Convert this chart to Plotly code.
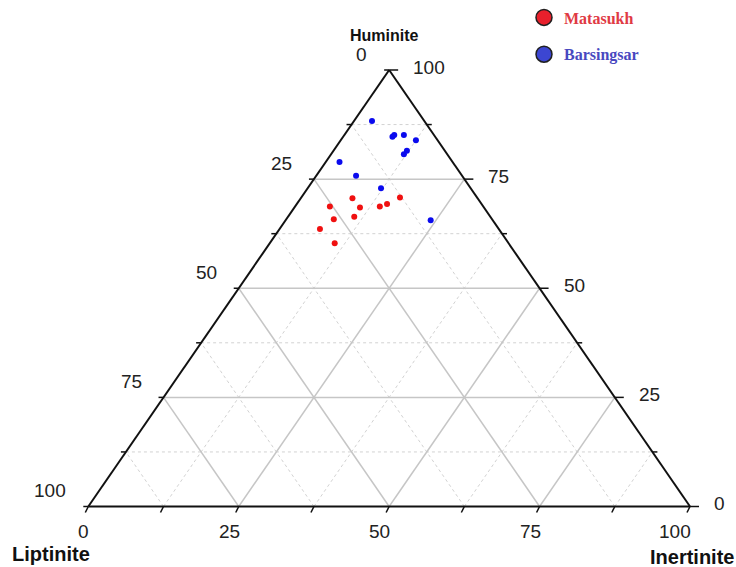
import plotly.graph_objects as go

# Maceral composition (vol. %) of the two lignite fields
matasukh_liptinite = [20.8, 25.5, 20.6, 17.2, 15.7, 12.8, 26.3, 22.6, 29.7, 28.9]
matasukh_huminite = [70.6, 68.7, 68.5, 68.7, 69.3, 70.8, 65.8, 66.4, 63.6, 60.3]
matasukh_inertinite = [8.6, 5.8, 10.9, 14.1, 15.0, 16.4, 7.9, 11.0, 6.7, 10.8]

barsingsar_liptinite = [8.7, 7.1, 6.6, 5.0, 3.6, 6.3, 7.2, 18.8, 17.6, 14.9, 10.3]
barsingsar_huminite = [88.3, 84.7, 85.1, 85.1, 83.9, 81.5, 80.7, 78.9, 75.8, 72.9, 65.6]
barsingsar_inertinite = [3.0, 8.2, 8.3, 9.9, 12.5, 12.2, 12.1, 2.3, 6.6, 12.2, 24.1]

tick_values = [0, 25, 50, 75, 100]
minor_values = [12.5, 37.5, 62.5, 87.5]

W, H = 736, 567
# plot-area geometry of the triangle (pixels)
X0, X1 = 88.3, 690.0        # bottom-left / bottom-right corners
Y_BASE, Y_TOP = 506.5, 70.0  # base line / apex
XS = (X1 - X0) / 100.0       # px per unit along x
YS = (Y_BASE - Y_TOP) / 100.0


def project(lip, hum, ine):
    """Ternary (L, H, I) -> cartesian, Huminite at apex, Inertinite bottom-right."""
    xs, ys = [], []
    for l, h, i in zip(lip, hum, ine):
        s = l + h + i
        h, i = 100 * h / s, 100 * i / s
        xs.append(i + h / 2)
        ys.append(h)
    return xs, ys


def seg_trace(segs, color, width, dash="solid"):
    xs, ys = [], []
    for (xa, ya), (xb, yb) in segs:
        xs += [xa, xb, None]
        ys += [ya, yb, None]
    return go.Scatter(x=xs, y=ys, mode="lines", hoverinfo="skip", showlegend=False,
                      line=dict(color=color, width=width, dash=dash))


def grid_segments(values):
    segs = []
    for v in values:
        segs.append(((v / 2, v), (100 - v / 2, v)))               # constant Huminite
        segs.append(((v, 0), (v + (100 - v) / 2, 100 - v)))       # constant Inertinite
        segs.append(((100 - v, 0), ((100 - v) / 2, 100 - v)))     # constant Liptinite
    return segs


fig = go.Figure()

fig.add_trace(seg_trace(grid_segments(minor_values), "#d2d2d2", 1, "dot"))
fig.add_trace(seg_trace(grid_segments(tick_values[1:-1]), "#c6c6c6", 1.5))

# triangle frame
fig.add_trace(seg_trace([((0, 0), (100, 0)), ((100, 0), (50, 100)), ((50, 100), (0, 0))],
                        "#111111", 2))

# tick marks on each edge
all_ticks = sorted(tick_values + minor_values)
tick_segs = []
for v in all_ticks:
    major = v in tick_values
    # left edge: Liptinite
    px, py = (100 - v) / 2, 100 - v
    tick_segs.append(((px, py), (px - 5 / XS, py)))
    # right edge: Huminite
    px, py = 100 - v / 2, v
    tick_segs.append(((px, py), (px + (9 if major else 5) / XS, py)))
    # bottom edge: Inertinite
    px, py = v, 0
    tick_segs.append(((px, py), (px - 3 / XS, py - 6 / YS)))
fig.add_trace(seg_trace(tick_segs, "#111111", 1.5))

# data points
mx, my = project(matasukh_liptinite, matasukh_huminite, matasukh_inertinite)
bx, by = project(barsingsar_liptinite, barsingsar_huminite, barsingsar_inertinite)
fig.add_trace(go.Scatter(x=mx, y=my, mode="markers", showlegend=False, name="Matasukh",
                         marker=dict(color="#f01010", size=6)))
fig.add_trace(go.Scatter(x=bx, y=by, mode="markers", showlegend=False, name="Barsingsar",
                         marker=dict(color="#0a0aee", size=6)))

# legend entries
legend_items = [("Matasukh", "#e8202c", "#e03a44"), ("Barsingsar", "#3c46d2", "#4848c0")]
for name, fill, txt in legend_items:
    fig.add_trace(go.Scatter(
        x=[None], y=[None], mode="markers", legendgroup=name,
        name=f"<b><span style='color:{txt}'>{name}</span></b>",
        marker=dict(color=fill, size=18, line=dict(color="#202020", width=1.5))))

tick_font = dict(family="Liberation Sans, Arial", size=19, color="#222222")
for v in tick_values:
    lab = str(v)
    # Liptinite along the left edge
    fig.add_annotation(x=(100 - v) / 2, y=100 - v, text=lab, showarrow=False,
                       xanchor="right", yanchor="middle", xshift=-20, yshift=16, font=tick_font)
    # Huminite along the right edge
    fig.add_annotation(x=100 - v / 2, y=v, text=lab, showarrow=False,
                       xanchor="left", yanchor="middle", xshift=22, yshift=3, font=tick_font)
    # Inertinite along the bottom
    fig.add_annotation(x=v, y=0, text=lab, showarrow=False,
                       xanchor="right", yanchor="middle", xshift=3, yshift=-25, font=tick_font)

fig.add_annotation(x=50, y=100, text="<b>Huminite</b>", showarrow=False,
                   xanchor="center", yanchor="middle", xshift=-5, yshift=35,
                   font=dict(family="Liberation Sans, Arial", size=16, color="#111111"))
corner_font = dict(family="Liberation Sans, Arial", size=20, color="#111111")
fig.add_annotation(x=0, y=0, text="<b>Liptinite</b>", showarrow=False,
                   xanchor="center", yanchor="middle", xshift=-37, yshift=-47, font=corner_font)
fig.add_annotation(x=100, y=0, text="<b>Inertinite</b>", showarrow=False,
                   xanchor="center", yanchor="middle", xshift=2, yshift=-50, font=corner_font)

fig.update_layout(
    width=W, height=H,
    margin=dict(l=0, r=0, t=0, b=0),
    paper_bgcolor="white", plot_bgcolor="white",
    xaxis=dict(range=[-X0 / XS, (W - X0) / XS], visible=False, fixedrange=True),
    yaxis=dict(range=[-(H - Y_BASE) / YS, Y_BASE / YS], visible=False, fixedrange=True),
    showlegend=True,
    legend=dict(x=524 / W, y=1 - 0.5 / H, xanchor="left", yanchor="top",
                bgcolor="rgba(0,0,0,0)", tracegroupgap=13,
                font=dict(family="Liberation Serif, Times New Roman", size=16)),
)

fig.write_html("out.html")
